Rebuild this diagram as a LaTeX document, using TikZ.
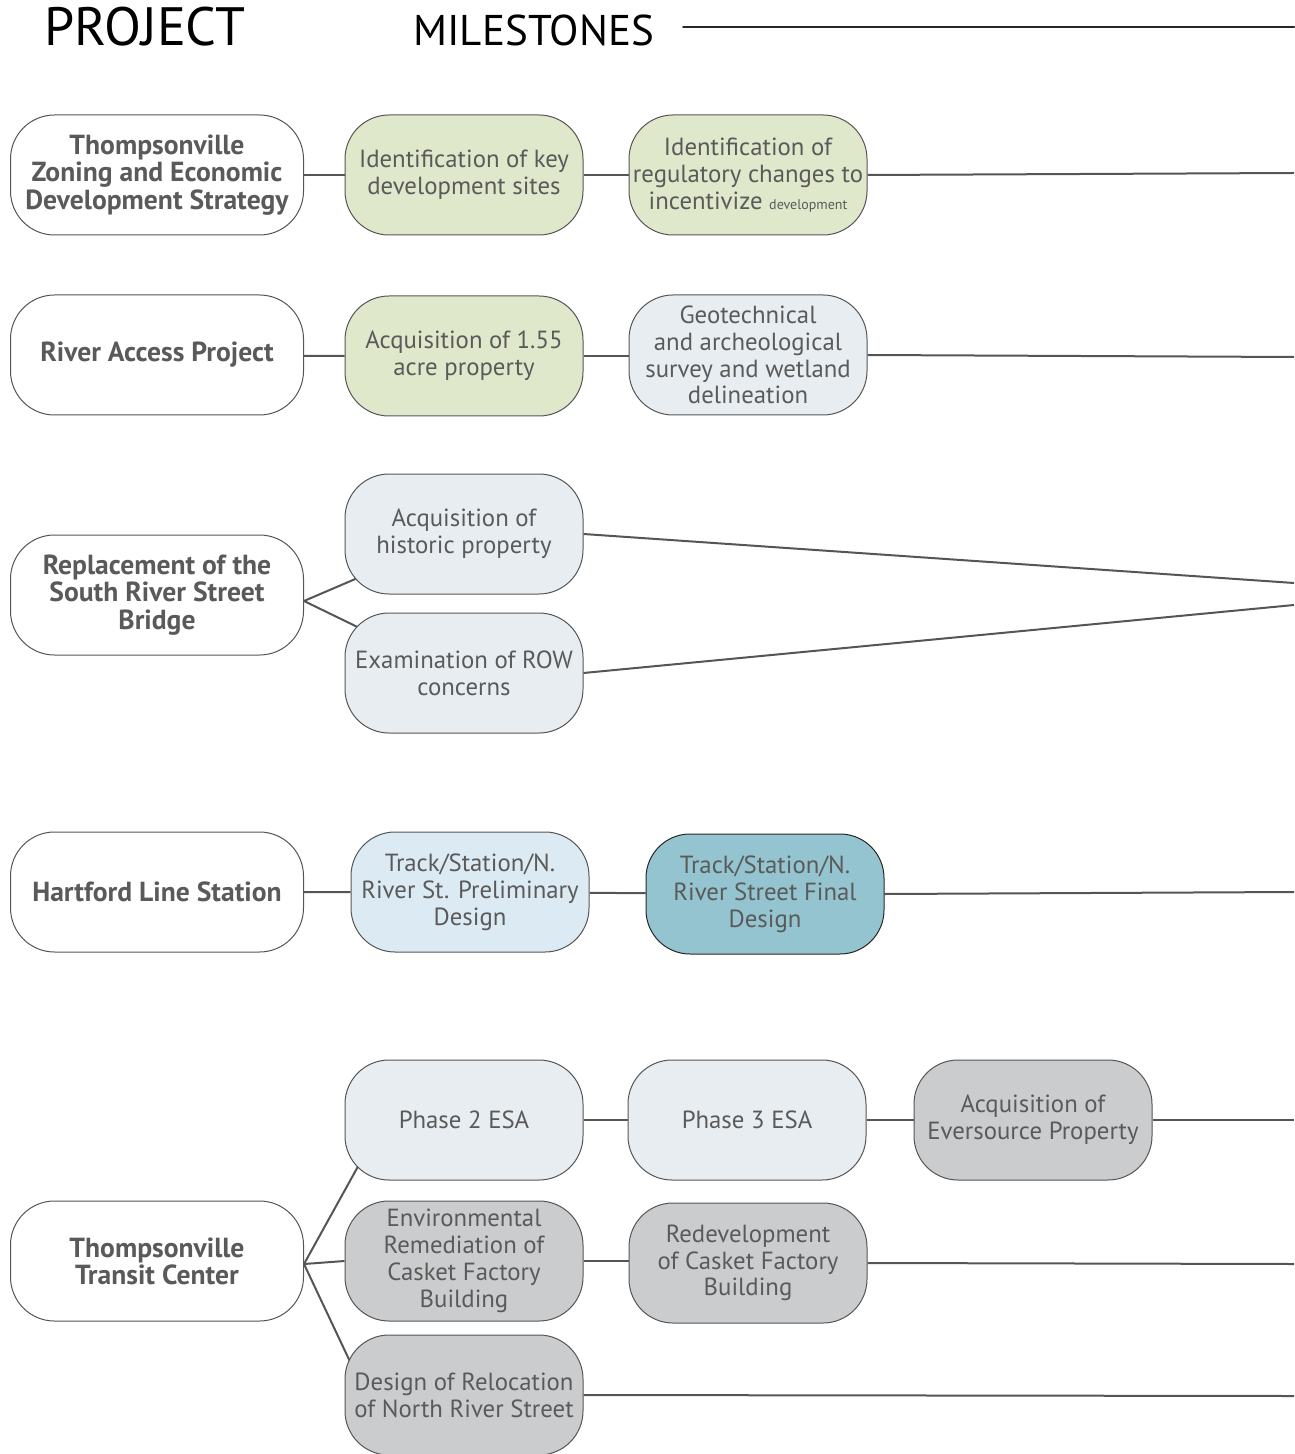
\documentclass[tikz,border=0pt]{standalone}
\usepackage{fontspec}
\setmainfont{PT Sans}
\usetikzlibrary{backgrounds}
\definecolor{inkgray}{HTML}{555555}
\definecolor{txtgray}{HTML}{5A5A5A}
\definecolor{sitegreen}{HTML}{E0E8CB}
\definecolor{palegray}{HTML}{E8EDF1}
\definecolor{paleblue}{HTML}{DCEAF3}
\definecolor{teal}{HTML}{94C4CF}
\definecolor{stonegray}{HTML}{CBCCCD}
\tikzset{
  project/.style={draw=inkgray, line width=0.5pt, fill=white, rounded corners=22pt,
    minimum width=146.5pt, minimum height=60pt, align=center, text=txtgray,
    font=\fontsize{13.8}{13.6}\selectfont\bfseries, inner sep=1pt},
  milestone/.style={draw=inkgray, line width=0.5pt, rounded corners=22pt,
    minimum width=119pt, minimum height=60pt, align=center, text=txtgray,
    font=\fontsize{12.4}{13.4}\selectfont, inner sep=1pt},
  link/.style={draw=inkgray, line width=1pt}
}
\begin{document}
\begin{tikzpicture}[x=0.5pt, y=-0.5pt, line cap=round, line join=round]
  % Page window
  \useasboundingbox (0,0) rectangle (1294,1454);

  % Header
  \node[anchor=base west, inner sep=0pt, font=\fontsize{27}{27}\selectfont] (hproj) at (44,46) {PROJECT};
  \node[anchor=base west, inner sep=0pt, font=\fontsize{21.5}{21.5}\selectfont] (hmile) at (413,46) {MILESTONES};
  \coordinate (hend) at (1294,27);
  \draw[line width=1pt, black!85] (683,27) -- (hend);

  % Row 1: zoning strategy
  \node[project] (p1) at (157,175) {Thompsonville\\Zoning and Economic\\Development Strategy};
  \node[milestone, fill=sitegreen] (m11) at (464,175) {Identification of key\\development sites};
  \node[milestone, fill=sitegreen] (m12) at (748,175) {Identification of\\regulatory changes to\\incentivize {\fontsize{7}{8}\selectfont development}};
  \coordinate (e1) at (1294,173);

  % Row 2: river access
  \node[project] (p2) at (157,355) {River Access Project};
  \node[milestone, fill=sitegreen] (m21) at (464,356) {Acquisition of 1.55\\acre property};
  \node[milestone, fill=palegray] (m22) at (748,355) {Geotechnical\\and archeological\\survey and wetland\\delineation};
  \coordinate (e2) at (1294,357);

  % Row 3: bridge
  \node[project] (p3) at (157,595) {Replacement of the\\South River Street\\Bridge};
  \node[milestone, fill=palegray] (m31) at (464,534) {Acquisition of\\historic property};
  \node[milestone, fill=palegray] (m32) at (464,673) {Examination of ROW\\concerns};
  \coordinate (e3a) at (1294,583);
  \coordinate (e3b) at (1294,605);

  % Row 4: station
  \node[project] (p4) at (157,892) {Hartford Line Station};
  \node[milestone, fill=paleblue] (m41) at (470,892) {Track/Station/N.\\River St. Preliminary\\Design};
  \node[milestone, fill=teal, draw=black!85] (m42) at (765,894) {Track/Station/N.\\River Street Final\\Design};
  \coordinate (e4) at (1294,892);

  % Row 5: transit center
  \node[project] (p5) at (157,1261) {Thompsonville\\Transit Center};
  \node[milestone, fill=palegray] (m51) at (464,1120) {Phase 2 ESA};
  \node[milestone, fill=palegray] (m52) at (747,1120) {Phase 3 ESA};
  \node[milestone, fill=stonegray] (m53) at (1033,1120) {Acquisition of\\Eversource Property};
  \node[milestone, fill=stonegray] (m54) at (464,1261) {Environmental\\Remediation of\\Casket Factory\\Building};
  \node[milestone, fill=stonegray] (m55) at (748,1263) {Redevelopment\\of Casket Factory\\Building};
  \node[milestone, fill=stonegray] (m56) at (464,1395) {Design of Relocation\\of North River Street};
  \coordinate (e5a) at (1294,1120);
  \coordinate (e5b) at (1294,1264);
  \coordinate (e5c) at (1294,1396);

  % Connectors behind the boxes
  \begin{scope}[on background layer]
    \draw[link] (p1) -- (m11) -- (m12);
    \draw[link] (m12.east) -- (e1);
    \draw[link] (p2) -- (m21.west);
    \draw[link] (m21.east) -- (m21.east -| m22.west);
    \draw[link] (m22.east) -- (e2);
    \draw[link] ([shift={(0,6)}]p3.east) -- ([shift={(12,-16)}]m31.south west);
    \draw[link] ([shift={(0,6)}]p3.east) -- ([shift={(14,15)}]m32.north west);
    \draw[link] (m31.east) -- (e3a);
    \draw[link] (m32.east) -- (e3b);
    \draw[link] (p4) -- (m41) -- (m42);
    \draw[link] (m42.east) -- (e4);
    \draw[link] ([shift={(0,3)}]p5.east) -- ([shift={(14,-15)}]m51.south west);
    \draw[link] ([shift={(0,3)}]p5.east) -- (m54.west);
    \draw[link] ([shift={(0,3)}]p5.east) -- ([shift={(5,26)}]m56.north west);
    \draw[link] (m51) -- (m52) -- (m53);
    \draw[link] (m53.east) -- (e5a);
    \draw[link] (m54.east) -- (m54.east -| m55.west);
    \draw[link] (m55.east) -- (e5b);
    \draw[link] (m56.east) -- (e5c);
  \end{scope}
\end{tikzpicture}
\end{document}
